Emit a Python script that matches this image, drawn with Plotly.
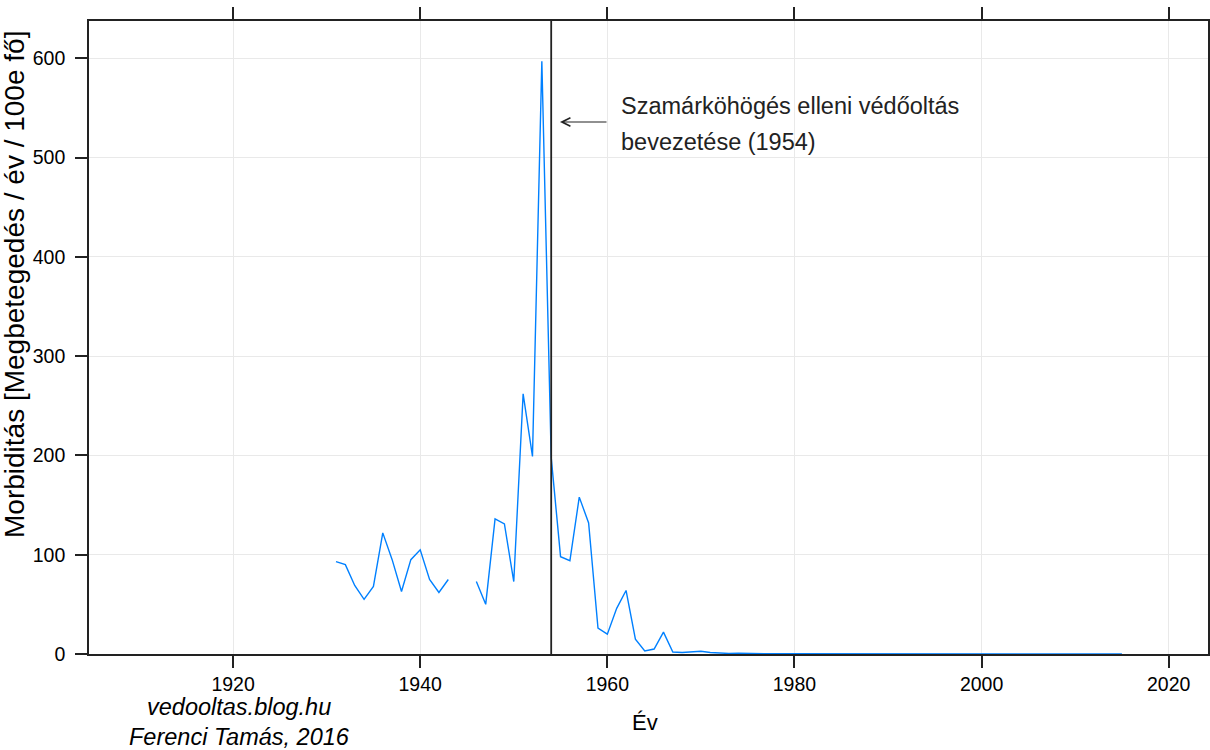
import plotly.graph_objects as go

years = list(range(1931, 2016))
morbidity = [
    93, 90, 69, 55, 68, 122, 95, 63, 95, 105, 75, 62, 75,   # 1931-1943
    None, None,                                            # 1944-1945
    73, 50, 136, 131, 73, 262, 199, 597, 198, 98,          # 1946-1955
    94, 158, 132, 26, 20, 46, 64, 15, 3, 5,                # 1956-1965
    22, 2, 1.5, 1.8, 2.8, 1.5, 0.8, 0.5, 0.7, 0.3,         # 1966-1975
    0.3, 0.2, 0.2, 0.2, 0.1, 0.1, 0.1, 0.1, 0.1, 0.1,      # 1976-1985
    0.1, 0.1, 0.1, 0.1, 0.1, 0.1, 0.1, 0.1, 0.1, 0.1,      # 1986-1995
    0.1, 0.1, 0.2, 0.1, 0.1, 0.1, 0.1, 0.1, 0.1, 0.1,      # 1996-2005
    0.1, 0.1, 0.2, 0.1, 0.1, 0.1, 0.1, 0.1, 0.1, 0.1,      # 2006-2015
]
x_ticks = [1920, 1940, 1960, 1980, 2000, 2020]
y_ticks = [0, 100, 200, 300, 400, 500, 600]
vaccine_year = 1954
annotation_line1 = "Szamárköhögés elleni védőoltás"
annotation_line2 = "bevezetése (1954)"
y_title = "Morbiditás [Megbetegedés / év / 100e fő]"
x_title = "Év"
credit_1 = "vedooltas.blog.hu"
credit_2 = "Ferenci Tamás, 2016"

FONT = "Liberation Sans, Arial, sans-serif"
W, H = 1210, 750
L, R, T, B = 89, 2, 21, 96
pw, ph = W - L - R, H - T - B


def px(xp, yp):
    """pixel position in the page -> paper coordinates"""
    return (xp - L) / pw, (H - B - yp) / ph


fig = go.Figure()
fig.add_trace(go.Scatter(
    x=years, y=morbidity, mode="lines",
    line=dict(color="#0080ff", width=1.4),
    connectgaps=False, showlegend=False, hoverinfo="x+y",
))

fig.add_shape(type="line", xref="x", yref="paper",
              x0=vaccine_year, x1=vaccine_year, y0=0, y1=1,
              line=dict(color="#222222", width=1.8), layer="above")

# arrow pointing at the vertical line
ax1, ay1 = px(560, 122)
fig.add_annotation(
    x=ax1, y=ay1, xref="paper", yref="paper",
    ax=48, ay=0, axref="pixel", ayref="pixel",
    text="", showarrow=True, arrowhead=5, arrowsize=1.4,
    arrowwidth=1.2, arrowcolor="#222222",
)


def text_ann(txt, xp, yp, size, xanchor="center", angle=0, italic=False, color="#000000"):
    xx, yy = px(xp, yp)
    fig.add_annotation(
        x=xx, y=yy, xref="paper", yref="paper", xanchor=xanchor, yanchor="middle",
        text=("<i>" + txt + "</i>") if italic else txt, showarrow=False,
        textangle=angle, font=dict(family=FONT, size=size, color=color),
    )


text_ann(annotation_line1, 619, 106, 23.5, xanchor="left", color="#222222")
text_ann(annotation_line2, 619, 142, 23.5, xanchor="left", color="#222222")
text_ann(y_title, 14, 285, 28, angle=-90)
text_ann(x_title, 645, 722, 22)
text_ann(credit_1, 239, 707, 23.5, italic=True)
text_ann(credit_2, 239, 737, 23.5, italic=True)

axis_common = dict(
    showline=True, linecolor="#222222", linewidth=1.6, mirror="ticks",
    ticks="outside", ticklen=12, tickwidth=1.6, tickcolor="#222222",
    showgrid=True, gridcolor="#e9e9e9", gridwidth=1, zeroline=False,
    tickfont=dict(family=FONT, size=19.5, color="#000000"),
    automargin=False,
)

fig.update_layout(
    width=W, height=H,
    margin=dict(l=L, r=R, t=T, b=B, autoexpand=False),
    paper_bgcolor="white", plot_bgcolor="white",
    xaxis=dict(range=[1904.6, 2024.2], tickvals=x_ticks, **axis_common),
    yaxis=dict(range=[0, 637.5], tickvals=y_ticks, ticklabelstandoff=6, **axis_common),
)

post = (
    "document.body.style.margin='0';"
    "document.body.style.padding='0';"
    "document.body.style.overflow='hidden';"
    "document.documentElement.style.overflow='hidden';"
    "Plotly.relayout(document.getElementById('{plot_id}'), {width:%d, height:%d});" % (W, H)
)

fig.write_html("out.html", config={"responsive": False, "displayModeBar": False},
               post_script=post)
